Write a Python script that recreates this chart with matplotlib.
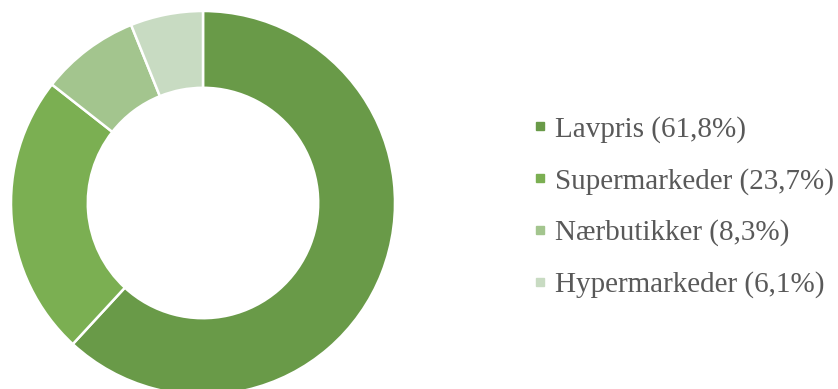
import matplotlib
matplotlib.use("Agg")
import matplotlib.pyplot as plt
from matplotlib.lines import Line2D

# Andel af dagligvaresalget fordelt på butikstype
kategorier = ["Lavpris", "Supermarkeder", "Nærbutikker", "Hypermarkeder"]
andele = [61.8, 23.7, 8.3, 6.1]
farver = ["#699A48", "#7BAF52", "#A3C58E", "#C8DBC2"]

W, H = 838, 389
fig = plt.figure(figsize=(W / 100, H / 100), dpi=100)

# donut med centrum ca. (203, 203) px og radius 192 px
cx, cy, r = 203, H - 203, 192
ax = fig.add_axes([(cx - r) / W, (cy - r) / H, 2 * r / W, 2 * r / H])
ax.pie(andele, colors=farver, startangle=90, counterclock=False,
       radius=1.0, wedgeprops=dict(width=0.4, edgecolor="white", linewidth=1.8))
ax.set_xlim(-1, 1)
ax.set_ylim(-1, 1)
ax.set_aspect("equal")
ax.axis("off")

handles = [Line2D([], [], marker="s", linestyle="none", markersize=5.2,
                  markerfacecolor=c, markeredgecolor=c) for c in farver]
labels = [f"{k} ({str(v).replace('.', ',')}%)" for k, v in zip(kategorier, andele)]
fig.legend(handles, labels, loc="center left", bbox_to_anchor=(534 / W, 1 - 207 / H),
           frameon=False, handlelength=0.4, handletextpad=0.31, labelspacing=0.85,
           prop=dict(family="Liberation Serif", size=21), labelcolor="#595959",
           borderpad=0, borderaxespad=0)

fig.savefig("out.png", dpi=100)
